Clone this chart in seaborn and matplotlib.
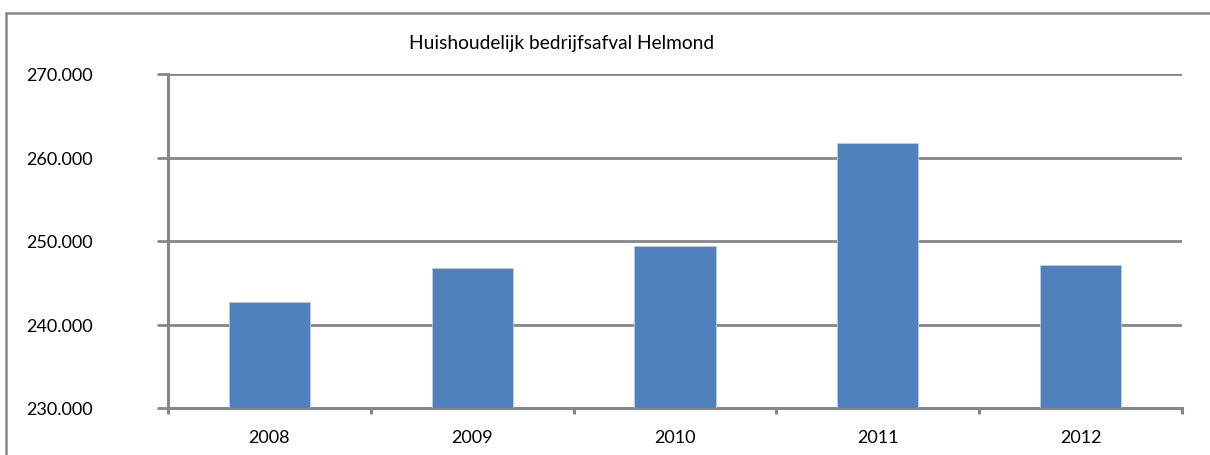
import matplotlib
matplotlib.use("Agg")
import matplotlib.pyplot as plt
from matplotlib.lines import Line2D
from matplotlib.ticker import FuncFormatter, FixedLocator
import seaborn as sns
import pandas as pd

# Household commercial waste, Helmond (thousands)
years = ["2008", "2009", "2010", "2011", "2012"]
waste = [242.7, 246.8, 249.4, 261.7, 247.1]
y_ticks = [230, 240, 250, 260, 270]
title = "Huishoudelijk bedrijfsafval Helmond"

sns.set_theme(style="white")
plt.rcParams["font.family"] = ["Lato", "DejaVu Sans"]

GRAY = "#868686"
BLUE = "#4F81BD"

W, H = 1210, 456
fig = plt.figure(figsize=(W / 100, H / 100), dpi=100)
ax = fig.add_axes([168 / W, 1 - 409 / H, (1182 - 168) / W, (409 - 75) / H])

df = pd.DataFrame({"jaar": years, "afval": waste})
sns.barplot(data=df, x="jaar", y="afval", color=BLUE, width=0.4,
            saturation=1, edgecolor="#B9CDE5", linewidth=0.6, ax=ax, zorder=3)

ax.set_ylim(y_ticks[0], y_ticks[-1])
ax.set_xlim(-0.5, len(years) - 0.5)
ax.set_yticks(y_ticks)
ax.yaxis.set_major_formatter(FuncFormatter(lambda v, _: f"{int(v)}.000"))
ax.set_xlabel("")
ax.set_ylabel("")

# horizontal gridlines
ax.yaxis.grid(True, color=GRAY, linewidth=2, zorder=0)
ax.xaxis.grid(False)
ax.set_axisbelow(True)

for side in ("top", "right"):
    ax.spines[side].set_visible(False)
for side in ("left", "bottom"):
    ax.spines[side].set_color(GRAY)
    ax.spines[side].set_linewidth(2.2)

ax.tick_params(axis="y", which="major", direction="out", length=8, width=2,
               color=GRAY, pad=46, labelsize=13, labelcolor="black", left=True)
ax.tick_params(axis="x", which="major", length=0, pad=15, labelsize=13,
               labelcolor="black")
# boundary ticks between categories
ax.xaxis.set_minor_locator(FixedLocator([i - 0.5 for i in range(len(years) + 1)]))
ax.tick_params(axis="x", which="minor", direction="out", length=4, width=2.2,
               color=GRAY, bottom=True)

fig.text(562 / W, 1 - 44 / H, title, ha="center", va="center", fontsize=13.8,
         color="black")

# chart-area border (top and left edges)
fig.add_artist(Line2D([6 / W, 6 / W], [0, 1 - 14 / H], transform=fig.transFigure,
                      color=GRAY, linewidth=1.8))
fig.add_artist(Line2D([6 / W, 1], [1 - 14 / H, 1 - 14 / H], transform=fig.transFigure,
                      color=GRAY, linewidth=1.8))

fig.savefig("out.png", dpi=100, facecolor="white")
